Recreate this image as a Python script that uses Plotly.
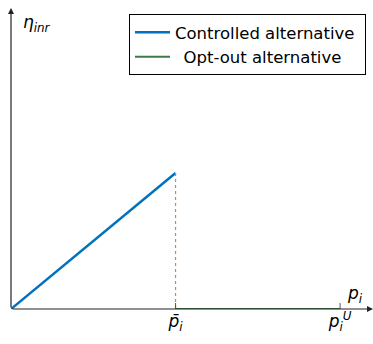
import plotly.graph_objects as go

# data (normalised units: p̄_i = 1, p_i^U = 2)
controlled_p = [0, 1]
controlled_eta = [0, 1]
optout_p = [1, 2]
optout_eta = [0, 0]
tick_vals = [1, 2]
tick_labels = ["<i>p\u0304<sub>i</sub></i>", "<i>p<sub>i</sub><sup>U</sup></i>"]
x_max = 2.2
y_max = 2.213

W, H = 373, 344
FONT = "DejaVu Sans"
ML, MT, MB = 11, 8, 35

fig = go.Figure()
fig.add_trace(go.Scatter(x=controlled_p, y=controlled_eta, mode="lines",
                         line=dict(color="#0072BD", width=2.5),
                         name="Controlled alternative\u00a0", cliponaxis=False))
fig.add_trace(go.Scatter(x=optout_p, y=optout_eta, mode="lines",
                         line=dict(color="#3d7a4a", width=2),
                         name="\u00a0\u2009Opt-out alternative", cliponaxis=False))
# dotted guide from p̄ down to axis
fig.add_trace(go.Scatter(x=[controlled_p[1], controlled_p[1]], y=[controlled_eta[1], 0],
                         mode="lines", line=dict(color="#e0803f", width=1.2, dash="dot"),
                         showlegend=False, hoverinfo="skip"))

# tick marks crossing the axis
for tv in tick_vals:
    fig.add_shape(type="line", xref="x", yref="y", x0=tv, x1=tv,
                  y0=-0.044, y1=0.044, line=dict(color="#555", width=1))

# axes arrows
fig.add_annotation(x=x_max, y=0, ax=0, ay=0, xref="x", yref="y", axref="x", ayref="y",
                   showarrow=True, arrowhead=2, arrowsize=1, arrowwidth=1.2,
                   arrowcolor="#222", text="")
fig.add_annotation(x=0, y=y_max, ax=0, ay=0, xref="x", yref="y", axref="x", ayref="y",
                   showarrow=True, arrowhead=2, arrowsize=1, arrowwidth=1.2,
                   arrowcolor="#222", text="")

# axis labels
fig.add_annotation(x=2.09, y=0.11, xref="x", yref="y", showarrow=False,
                   text="<i>p<sub>i</sub></i>", font=dict(family=FONT, size=17, color="black"))
fig.add_annotation(x=0.06, y=2.1, xref="x", yref="y", showarrow=False, xanchor="left",
                   text="<i>\u03b7<sub>inr</sub></i>", font=dict(family=FONT, size=17, color="black"))

plot_w = W - ML
plot_h = H - MT - MB
fig.update_layout(
    width=W, height=H,
    margin=dict(l=ML, r=0, t=MT, b=MB),
    paper_bgcolor="white", plot_bgcolor="white",
    font=dict(family=FONT, size=16, color="black"),
    xaxis=dict(range=[0, x_max], showgrid=False, zeroline=False, showline=False,
               tickvals=tick_vals, ticktext=tick_labels, ticks="",
               tickfont=dict(family=FONT, size=17)),
    yaxis=dict(range=[0, y_max], showgrid=False, zeroline=False, showline=False,
               showticklabels=False, ticks=""),
    legend=dict(x=(129 - ML) / plot_w, y=1 - (14 - MT) / plot_h,
                xanchor="left", yanchor="top", itemwidth=35,
                bordercolor="black", borderwidth=1, bgcolor="white",
                font=dict(family=FONT, size=16.5), tracegroupgap=0),
    showlegend=True,
)

fig.write_html("out.html", config={"displayModeBar": False},
               post_script="document.body.style.margin='0';")
